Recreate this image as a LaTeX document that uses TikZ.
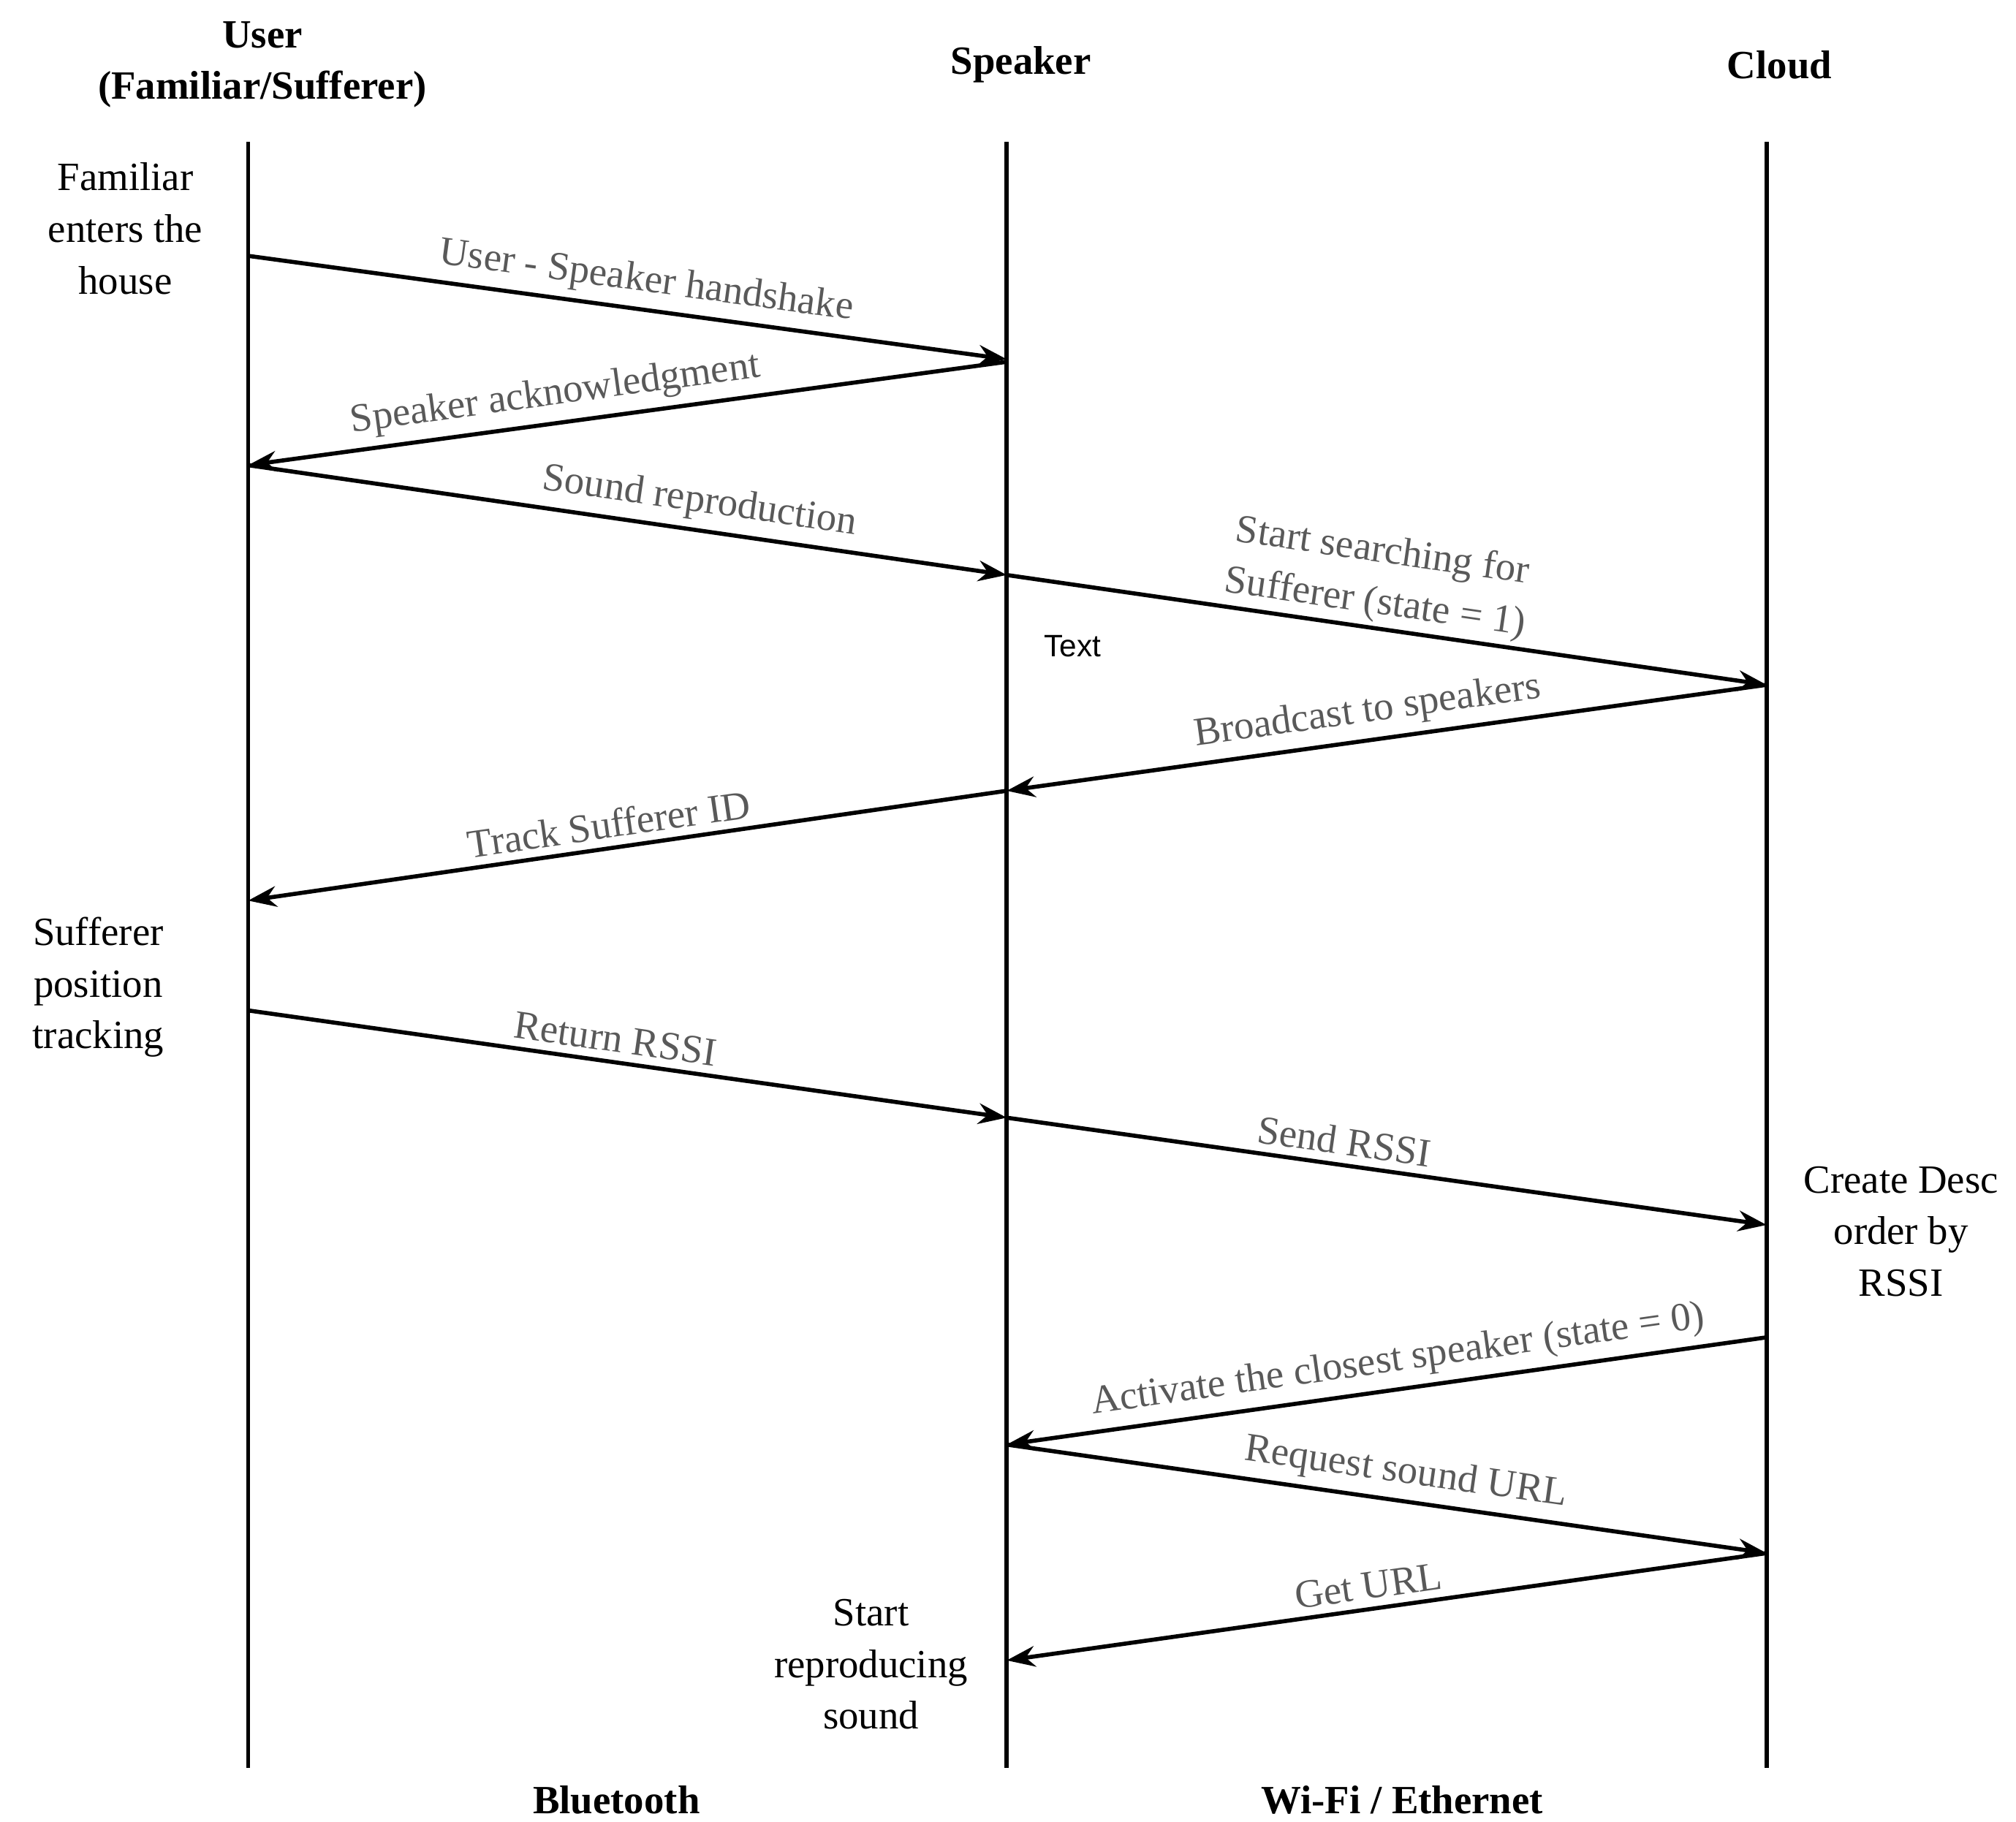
\documentclass[tikz,border=0pt]{standalone}
\usepackage{fontspec}
\setmainfont{Liberation Serif}
\newfontfamily\sff{Liberation Sans}
\usetikzlibrary{arrows.meta}
\begin{document}
\begin{tikzpicture}[x=0.5pt,y=-0.5pt,
  life/.style={line width=1.6pt},
  msg/.style={line width=1.6pt,-{Stealth[length=11pt,width=8pt]}},
  lab/.style={sloped,above,text=black!65,font=\fontsize{15.5}{20}\selectfont,inner sep=3pt,align=center},
  note/.style={align=center,font=\fontsize{15.5}{20}\selectfont},
  head/.style={align=center,font=\bfseries\fontsize{15.5}{20}\selectfont}]
\useasboundingbox (0,0) rectangle (1560,1410);
\draw[life] (192,110) coordinate (u0) -- (192,1368) coordinate (u1);
\draw[life] (779,110) coordinate (s0) -- (779,1368) coordinate (s1);
\draw[life] (1367,110) coordinate (c0) -- (1367,1368) coordinate (c1);
\node[head] (hu) at (203,50) {User\\(Familiar/Sufferer)};
\node[head] (hs) at (790,50) {Speaker};
\node[head] (hc) at (1377,50) {Cloud};
\node[head] (bt) at (477,1393) {Bluetooth};
\node[head] (wf) at (1085,1393) {Wi-Fi / Ethernet};
\foreach \n/\x/\y in {a1/192/198,a2/779/278,b1/779/280,b2/192/360,c1/192/360,c2/779/445,
 d1/779/445,d2/1367/530,e1/1367/530,e2/779/612,f1/779/612,f2/192/697,g1/192/782,g2/779/865,
 h1/779/865,h2/1367/948,i1/1367/1035,i2/779/1118,j1/779/1118,j2/1367/1202,k1/1367/1202,k2/779/1285}
  \coordinate (\n) at (\x,\y);
\draw[msg] (a1) -- node[lab,pos=0.52]{User - Speaker handshake} (a2);
\draw[msg] (b1) -- node[lab,pos=0.59]{Speaker acknowledgment} (b2);
\draw[msg] (c1) -- node[lab,pos=0.59]{Sound reproduction} (c2);
\draw[msg] (d1) -- node[lab,pos=0.48,inner sep=1.5pt]{Start searching for\\Sufferer (state = 1)} (d2);
\draw[msg] (e1) -- node[lab,pos=0.52]{Broadcast to speakers} (e2);
\draw[msg] (f1) -- node[lab,pos=0.52]{Track Sufferer ID} (f2);
\draw[msg] (g1) -- node[lab,pos=0.48]{Return RSSI} (g2);
\draw[msg] (h1) -- node[lab,pos=0.44]{Send RSSI} (h2);
\draw[msg] (i1) -- node[lab,pos=0.48]{Activate the closest speaker (state = 0)} (i2);
\draw[msg] (j1) -- node[lab,pos=0.52]{Request sound URL} (j2);
\draw[msg] (k1) -- node[lab,pos=0.52]{Get URL} (k2);
\node[note] (n1) at (97,177) {Familiar\\enters the\\house};
\node[note] (n2) at (76,764) {Sufferer\\position\\tracking};
\node[note] (n3) at (1471,953) {Create Desc\\order by\\RSSI};
\node[note] (n4) at (674,1288) {Start\\reproducing\\sound};
\node[font=\sff\fontsize{12}{14}\selectfont] (tx) at (830,500) {Text};
\end{tikzpicture}
\end{document}
